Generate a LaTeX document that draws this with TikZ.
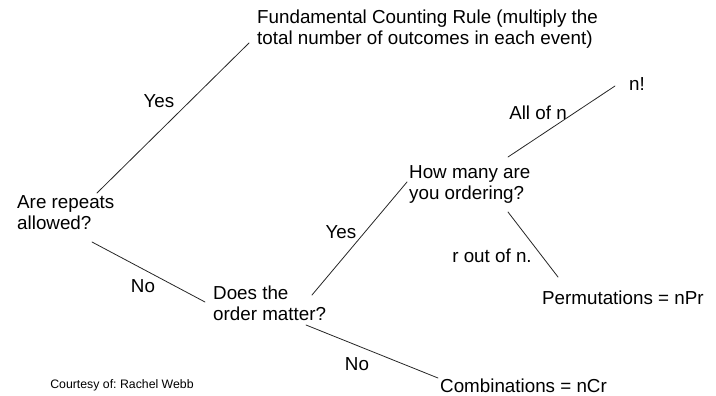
\documentclass[tikz,border=0pt]{standalone}
\usepackage{fontspec}
\setmainfont{Liberation Sans}
\frenchspacing
\begin{document}
\begin{tikzpicture}[x=1pt, y=1pt, line join=round, line cap=round,
		txt/.style={inner sep=0, align=left, font=\fontsize{18.8}{21}\selectfont},
		branch/.style={line width=0.8pt, black!85}]
	\useasboundingbox (0,0) rectangle (716,-396);
	
	% Questions and results
	\node[txt, anchor=west] (fcr) at (257,-29) {Fundamental Counting Rule (multiply the\\total number of outcomes in each event)};
	\node[txt, anchor=west] (repeats) at (17,-213) {Are repeats\\allowed?};
	\node[txt, anchor=west] (order) at (213,-303) {Does the\\order matter?};
	\node[txt, anchor=west] (howmany) at (409,-184) {How many are\\you ordering?};
	\node[txt, anchor=west] (nfact) at (629,-84) {n!};
	\node[txt, anchor=west] (perm) at (542,-298) {Permutations = nPr};
	\node[txt, anchor=west] (comb) at (440,-386) {Combinations = nCr};
	
	% Branch labels
	\node[txt] (yesA) at (159,-101) {Yes};
	\node[txt] (noA) at (143,-286) {No};
	\node[txt] (yesB) at (341,-232) {Yes};
	\node[txt] (noB) at (357,-364) {No};
	\node[txt] (alln) at (538,-113) {All of n};
	\node[txt] (routn) at (492,-256) {r out of n.};
	
	% Branches
	\draw[branch] ([shift={(80,20)}]repeats.west) -- ([shift={(-8,-14)}]fcr.west);
	\draw[branch] ([shift={(75,-29)}]repeats.west) -- ([shift={(-8,1)}]order.west);
	\draw[branch] ([shift={(99,8)}]order.west) -- ([shift={(-2,2)}]howmany.west);
	\draw[branch] ([shift={(93,-22)}]order.west) -- ([shift={(-2,8)}]comb.west);
	\draw[branch] ([shift={(99,27)}]howmany.west) -- ([shift={(-14,-2)}]nfact.west);
	\draw[branch] ([shift={(99,-28)}]howmany.west) -- ([shift={(16,21)}]perm.west);
	
	\node[inner sep=0, font=\fontsize{12.3}{14}\selectfont] (credit) at (122,-385) {Courtesy of: Rachel Webb};
\end{tikzpicture}
\end{document}
